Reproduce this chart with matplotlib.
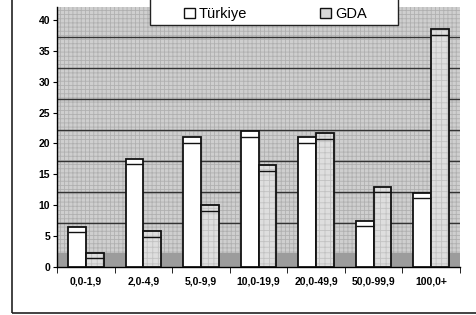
import numpy as np
from matplotlib import pyplot as plt
from matplotlib.patches import Rectangle, Patch

plt.rcParams['font.family'] = ['Liberation Sans', 'DejaVu Sans']

# veriler
categories = ['0,0-1,9', '2,0-4,9', '5,0-9,9', '10,0-19,9', '20,0-49,9', '50,0-99,9', '100,0+']
turkiye = [6.5, 17.5, 21.0, 22.0, 21.0, 7.5, 12.0]
gda = [2.3, 5.8, 10.0, 16.5, 21.7, 13.0, 38.5]
series_names = ['Türkiye', 'GDA']
yticks = [0, 5, 10, 15, 20, 25, 30, 35, 40]

depth = 2.2      # 3D arka duvar kaymasi
cap = 0.9        # cubuk ust kapagi
w = 0.31

fig = plt.figure(figsize=(4.76, 3.15), dpi=100)
ax = fig.add_axes([57 / 476, 1 - 267 / 315, 403 / 476, 260 / 315])

# dis cerceve (sag kenar resmin disinda)
fig.patches.append(Rectangle((12 / 476, 2 / 315), 1.2, 1.2, transform=fig.transFigure,
                             facecolor='none', edgecolor='#222222', linewidth=1.2, zorder=0))

ax.set_xlim(-0.5, 6.5)
ax.set_ylim(0, 42.1)
ax.patch.set_visible(False)

# arka duvar (noktali gri)
plt.rcParams['hatch.color'] = '#b0b0b0'
plt.rcParams['hatch.linewidth'] = 0.6
ax.add_patch(Rectangle((-0.5, 0), 7, 42.1, facecolor='#cfcfcf', edgecolor='#b0b0b0',
                       hatch='++++', linewidth=0, zorder=0))
# zemin
ax.axhspan(0, depth, color='#9c9c9c', zorder=0.5, linewidth=0)
for g in np.arange(5, 41, 5) + depth:
    if g < 42:
        ax.axhline(g, color='#333333', linewidth=1.0, zorder=1)

x = np.arange(len(categories))
ax.bar(x - w / 2, turkiye, w, color='white', edgecolor='#111111', linewidth=1.3, zorder=3)
ax.bar(x + w / 2, gda, w, color='#dedede', edgecolor='#c2c2c2', hatch='+++', linewidth=0, zorder=3)
ax.bar(x + w / 2, gda, w, color='none', edgecolor='#111111', linewidth=1.3, zorder=4)

# ust kapak cizgileri
ax.hlines(np.array(turkiye) - cap, x - w, x, color='#111111', linewidth=1.0, zorder=5)
ax.hlines(np.array(gda) - cap, x, x + w, color='#111111', linewidth=1.0, zorder=5)

ax.spines['top'].set_visible(False)
ax.spines['right'].set_visible(False)
ax.spines['left'].set_linewidth(1.0)
ax.spines['bottom'].set_linewidth(1.0)

ax.set_yticks(yticks)
ax.set_yticklabels([str(t) for t in yticks], fontsize=7.5, fontweight='bold')
ax.set_xticks(x)
ax.set_xticklabels(categories, fontsize=7.5, fontweight='bold')
ax.tick_params(axis='x', which='major', length=0, pad=7)
ax.set_xticks(np.arange(-0.5, 7, 1), minor=True)
ax.tick_params(axis='x', which='minor', length=4, direction='out')
ax.tick_params(axis='y', length=3, direction='out', pad=2)

# lejant
fig.patches.append(Rectangle((150 / 476, 1 - 25 / 315), 248 / 476, 30 / 315, transform=fig.transFigure,
                             facecolor='white', edgecolor='#222222', linewidth=1.0, zorder=10))
handles = [Patch(facecolor='white', edgecolor='#111111', linewidth=1.0),
           Patch(facecolor='#d8d8d8', edgecolor='#111111', linewidth=1.0)]
leg = fig.legend(handles, series_names, loc='center', bbox_to_anchor=(275.5 / 476, 1 - 14 / 315),
                 ncol=2, frameon=False, fontsize=10.5, handlelength=0.75, handleheight=0.75,
                 handletextpad=0.3, columnspacing=5.0, borderpad=0)
leg.set_zorder(11)

plt.savefig('out.png', dpi=100)
